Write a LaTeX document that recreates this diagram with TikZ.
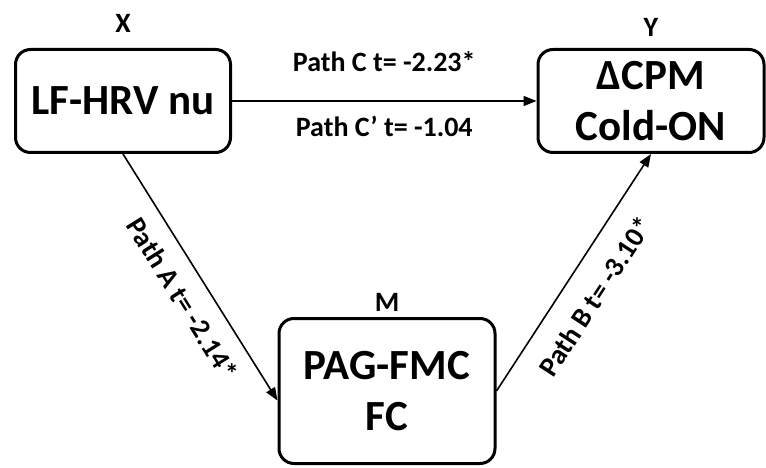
\documentclass[tikz,border=0pt]{standalone}
\usepackage{fontspec}
\setmainfont{Carlito}
\usetikzlibrary{positioning,arrows.meta}

\begin{document}
\begin{tikzpicture}[x=1pt,y=-1pt,
  box/.style={draw,line width=3pt,rounded corners=15pt,align=center,
    font=\fontsize{43}{51}\selectfont\bfseries},
  tag/.style={font=\fontsize{28}{30}\selectfont\bfseries},
  lbl/.style={font=\fontsize{28}{30}\selectfont\bfseries},
  arr/.style={-{Triangle[length=13pt,width=10pt]},line width=1.6pt}]
\useasboundingbox (0,0) rectangle (766,468);
% variables
\node[box,minimum width=215pt,minimum height=103pt] (X) at (123,101) {LF-HRV nu};
\node[box,minimum width=226pt,minimum height=103pt] (Y) at (651,101) {ΔCPM\\Cold-ON};
\node[box,minimum width=216pt,minimum height=145pt] (M) at (387,391) {PAG-FMC\\FC};
\node[tag,above=12pt of X] (xt) {X};
\node[tag,above=8pt of Y] (yt) {Y};
\node[tag,above=2pt of M] (mt) {M};
% paths
\draw[arr] (X) -- node[lbl,above=25pt] (pc) {Path C t= -2.23*}
  node[lbl,below=11pt] (pcp) {Path C’ t= -1.04} (Y);
\draw[arr] (X.south) -- node[lbl,sloped,below=12pt,pos=0.53] (pa) {Path A t= -2.14*} (M.185);
\draw[arr] (M.east) -- node[lbl,sloped,below=17pt,pos=0.47] (pb) {Path B t= -3.10*} (Y.south);
\end{tikzpicture}
\end{document}
